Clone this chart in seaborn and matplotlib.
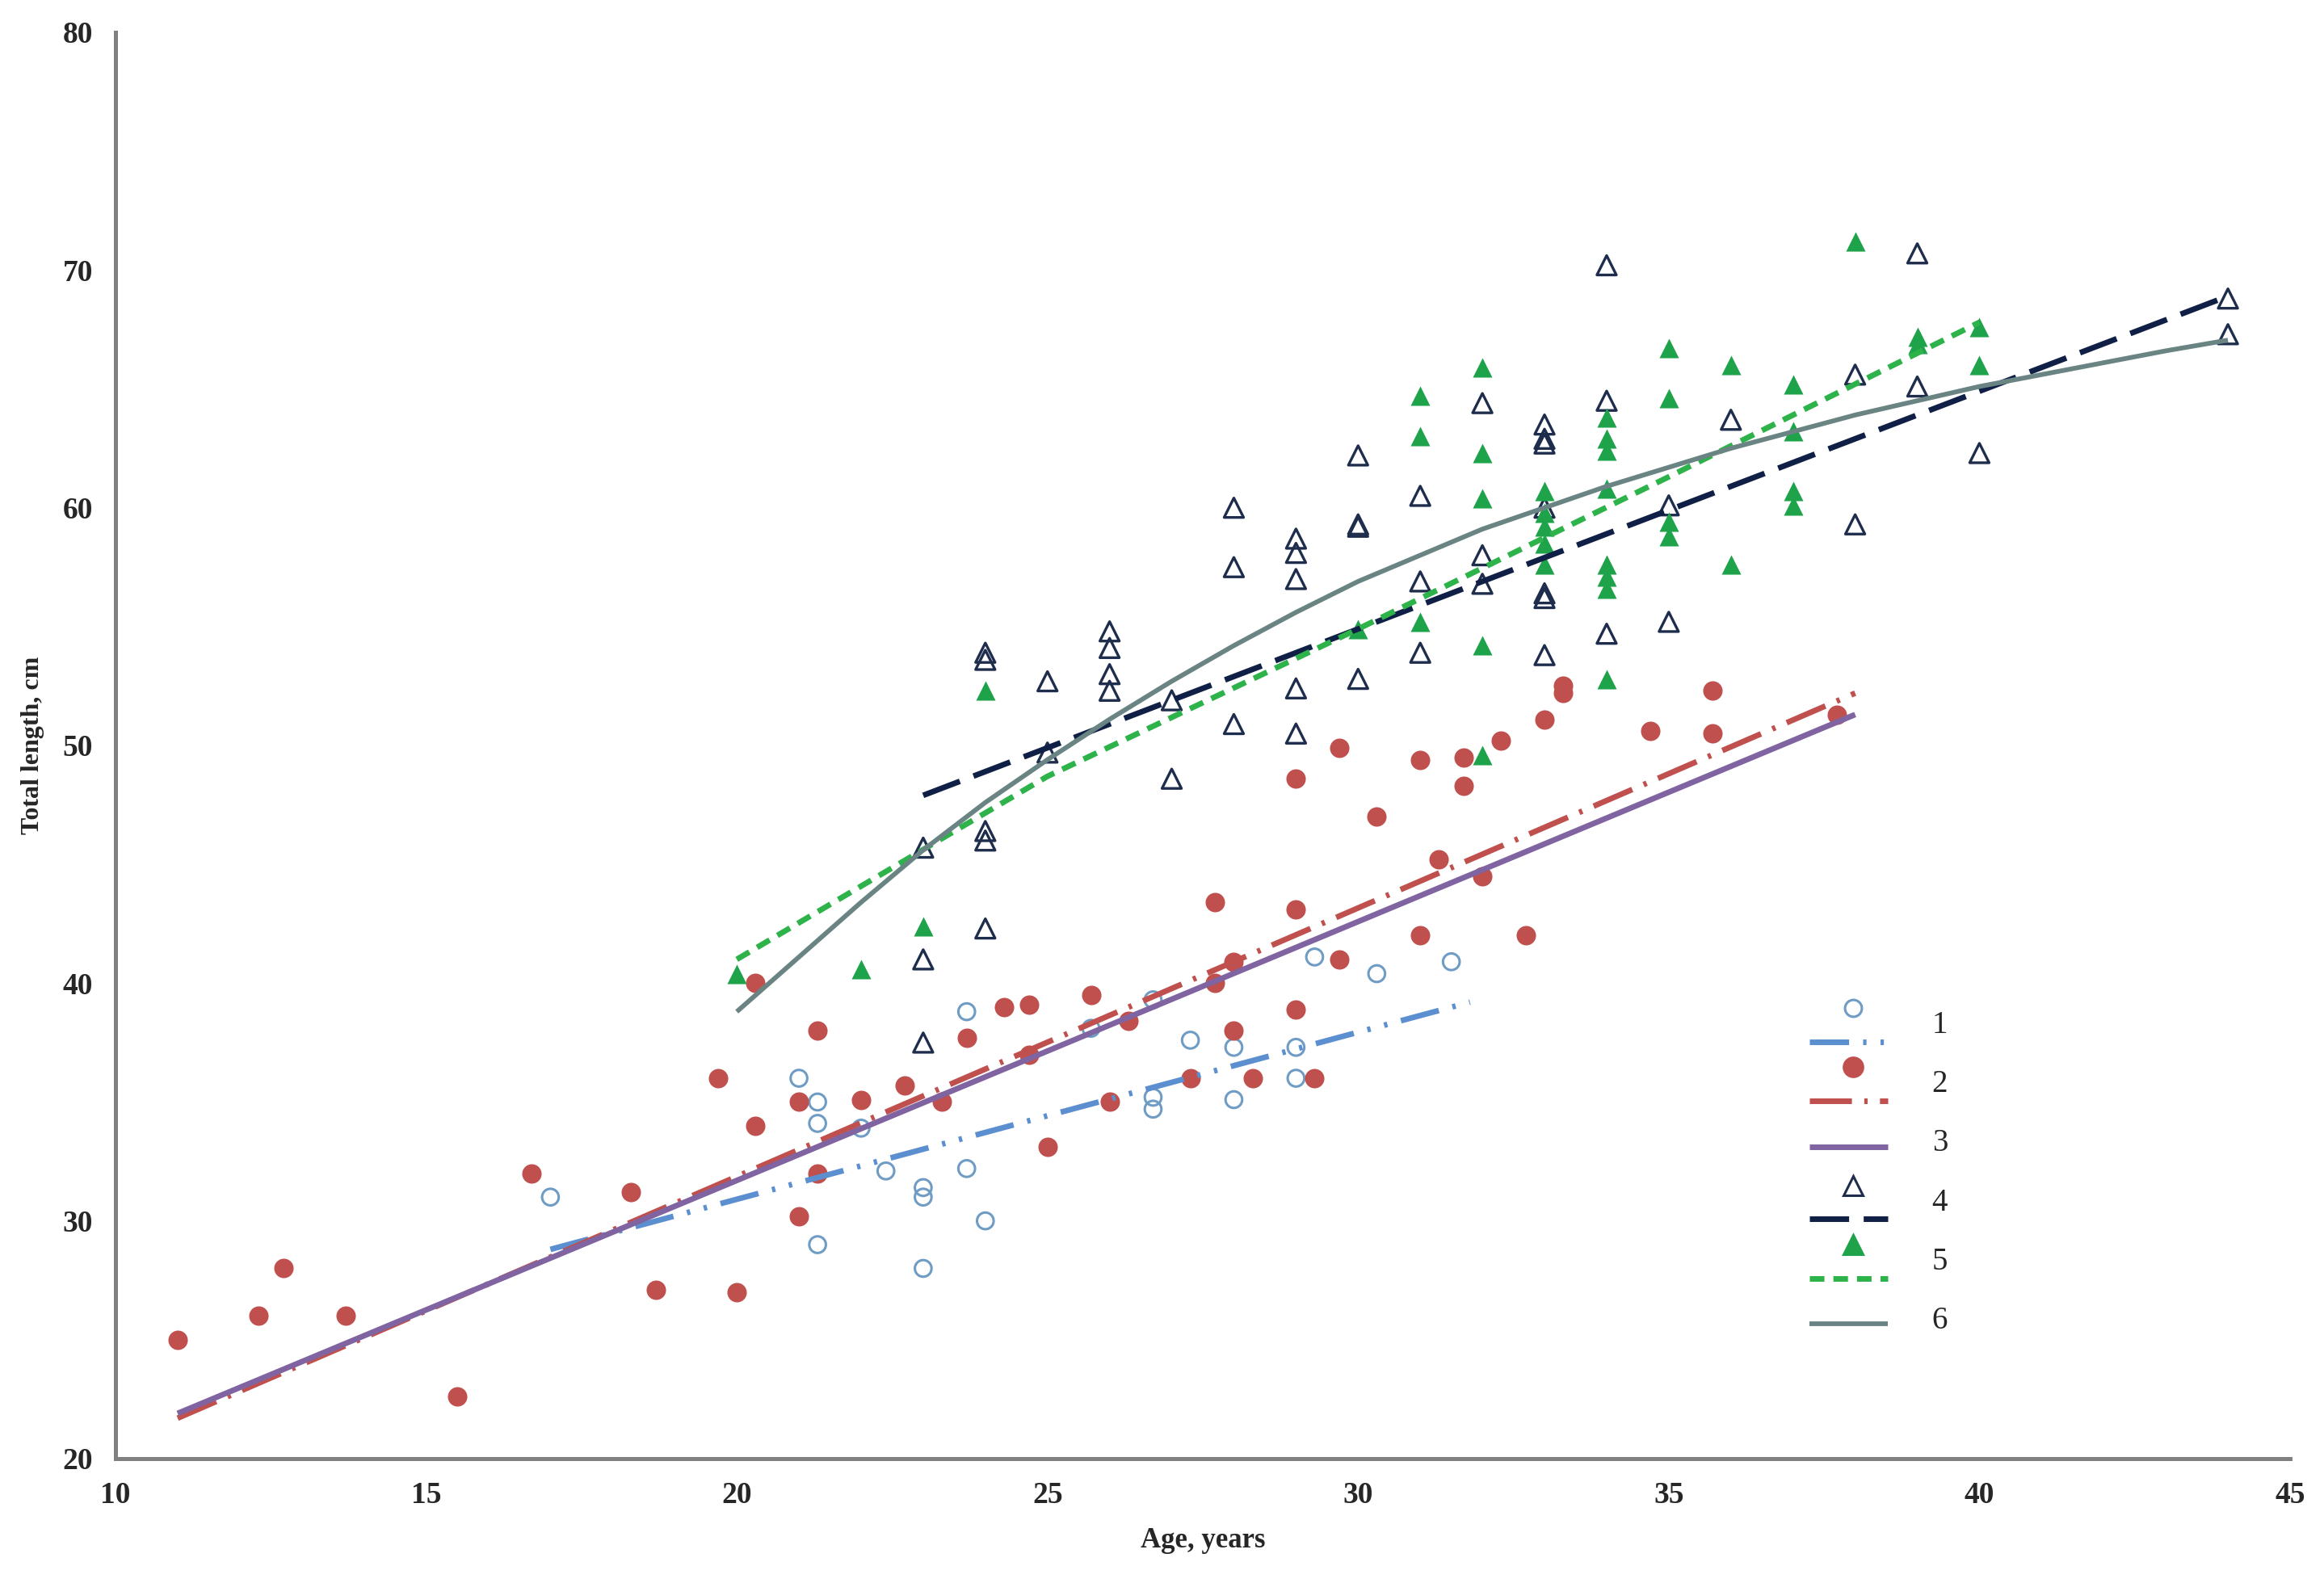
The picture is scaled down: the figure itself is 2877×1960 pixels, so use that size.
import numpy as np
import pandas as pd
import seaborn as sns
import matplotlib
import matplotlib.pyplot as plt
from matplotlib.lines import Line2D
from matplotlib.legend_handler import HandlerBase

matplotlib.use('Agg')

# ---- data ----
# 1: open circles
age1 = [17.0, 21.0, 21.3, 21.3, 21.3, 22.0, 22.4, 23.0, 23.0, 23.0,
        23.7, 23.7, 24.0, 25.7, 26.7, 26.7, 26.7, 27.3, 28.0, 28.0,
        29.0, 29.0, 29.3, 30.3, 31.5]
len1 = [31.0, 36.0, 35.0, 34.1, 29.0, 33.9, 32.1, 31.4, 31.0, 28.0,
        38.8, 32.2, 30.0, 38.1, 39.3, 35.2, 34.7, 37.6, 37.3, 35.1,
        37.3, 36.0, 41.1, 40.4, 40.9]

# 2: red dots
age2 = [11.0, 12.3, 12.7, 13.7, 15.5, 16.7, 18.3, 18.7, 19.7, 20.0,
        20.3, 20.3, 21.0, 21.0, 21.3, 21.3, 22.0, 22.7, 23.3, 23.7,
        24.3, 24.7, 24.7, 25.0, 25.7, 26.0, 26.3, 27.3, 27.7, 27.7,
        28.0, 28.0, 28.3, 29.0, 29.0, 29.0, 29.3, 29.7, 29.7, 30.3,
        31.0, 31.0, 31.3, 31.7, 31.7, 32.0, 32.3, 32.7, 33.0, 33.3,
        33.3, 34.7, 35.7, 35.7, 37.7]
len2 = [25.0, 26.0, 28.0, 26.0, 22.6, 32.0, 31.2, 27.1, 36.0, 27.0,
        40.0, 34.0, 35.0, 30.2, 38.0, 32.0, 35.1, 35.7, 35.0, 37.7,
        39.0, 39.1, 37.0, 33.1, 39.5, 35.0, 38.4, 36.0, 43.4, 40.0,
        40.9, 38.0, 36.0, 43.1, 48.6, 38.9, 36.0, 49.9, 41.0, 47.0,
        49.4, 42.0, 45.2, 49.5, 48.3, 44.5, 50.2, 42.0, 51.1, 52.5,
        52.2, 50.6, 52.3, 50.5, 51.3]

# 4: open triangles
age4 = [23, 23, 23, 24, 24, 24, 24, 24, 25, 25, 26, 26, 26, 26, 27, 27,
        28, 28, 28, 29, 29, 29, 29, 29, 30, 30, 30, 30, 31, 31, 31,
        32, 32, 32, 33, 33, 33, 33, 33, 33, 33, 34, 34, 34, 35, 35,
        36, 38, 38, 39, 39, 40, 44, 44]
len4 = [45.7, 41.0, 37.5, 53.9, 53.6, 46.4, 46.0, 42.3, 52.7, 49.7,
        54.8, 54.1, 53.0, 52.3, 51.9, 48.6, 60.0, 57.5, 50.9,
        58.7, 58.1, 57.0, 52.4, 50.5, 62.2, 59.3, 59.2, 52.8,
        60.5, 56.9, 53.9, 64.4, 58.0, 56.8,
        63.5, 62.9, 62.7, 60.0, 56.4, 56.2, 53.8, 70.2, 64.5, 54.7,
        60.1, 55.2, 63.7, 65.6, 59.3, 70.7, 65.1, 62.3, 68.8, 67.3]

# 5: filled triangles
age5 = [20, 22, 23, 24, 30, 31, 31, 31, 32, 32, 32, 32, 32,
        33, 33, 33, 33, 33, 34, 34, 34, 34, 34, 34, 34, 34,
        35, 35, 35, 35, 36, 36, 37, 37, 37, 37, 38, 39, 39, 40, 40]
len5 = [40.4, 40.6, 42.4, 52.3, 54.9, 64.7, 63.0, 55.2,
        65.9, 62.3, 60.4, 54.2, 49.6, 60.7, 59.8, 59.2, 58.5, 57.6,
        63.8, 62.9, 62.4, 60.8, 57.6, 57.1, 56.6, 52.8,
        66.7, 64.6, 59.4, 58.8, 66.0, 57.6, 65.2, 63.2, 60.7, 60.1,
        71.2, 67.2, 66.9, 67.6, 66.0]

# fitted curves
fit1_age = [17.0, 31.8]
fit1_len = [28.8, 39.2]
fit2_age = [11.0, 38.0]
fit2_len = [21.7, 52.2]
fit3_age = [11.0, 38.0]
fit3_len = [21.9, 51.3]
fit4_age = [23.0, 44.0]
fit4_len = [47.9, 68.9]
fit5_age = [20, 25, 30, 35, 40]
fit5_len = [41.0, 48.7, 54.9, 61.3, 67.8]
fit6_age = [20, 21, 22, 23, 24, 25, 26, 27, 28, 29, 30, 31, 32, 33, 34,
            35, 36, 37, 38, 39, 40, 41, 42, 43, 44]
fit6_len = [38.8, 41.1, 43.4, 45.6, 47.6, 49.4, 51.1, 52.7, 54.2, 55.6,
            56.9, 58.0, 59.1, 60.0, 60.9, 61.7, 62.5, 63.2, 63.9, 64.5,
            65.1, 65.6, 66.1, 66.6, 67.05]

labels = ['1', '2', '3', '4', '5', '6']

# colours
c1 = '#5b8fcf'
c1m = '#6f9cc4'
c2 = '#c0504d'
c3 = '#8064a2'
c4 = '#0f1f45'
c4m = '#1f2d4d'
c5 = '#1ea34a'
c5l = '#2db34a'
c6 = '#6a8484'

sns.set_style('white')
plt.rcParams['font.family'] = ['Liberation Serif', 'DejaVu Serif']

fig = plt.figure(figsize=(2877 / 200, 1960 / 200), dpi=200)
ax = fig.add_axes([0.0497, 0.0786, 0.9357, 0.901])

sns.scatterplot(x=age1, y=len1, ax=ax, marker='o', s=55, facecolors='none',
                edgecolor=c1m, linewidth=1.1, zorder=3)
sns.scatterplot(x=age2, y=len2, ax=ax, marker='o', s=75, color=c2,
                edgecolor=c2, linewidth=0, zorder=3)
sns.scatterplot(x=age4, y=len4, ax=ax, marker='^', s=75, facecolors='none',
                edgecolor=c4m, linewidth=1.2, zorder=3)
sns.scatterplot(x=age5, y=len5, ax=ax, marker='^', s=75, color=c5,
                edgecolor=c5, linewidth=0, zorder=3)

lw = 2.5
line_specs = [
    (fit1_age, fit1_len, c1, (7, 2.5, 0.6, 2.5, 0.6, 2.5), lw),
    (fit2_age, fit2_len, c2, (7.5, 2.2, 0.6, 2.2), lw),
    (fit3_age, fit3_len, c3, None, lw),
    (fit4_age, fit4_len, c4, (7, 2.6), lw),
    (fit5_age, fit5_len, c5l, (2.6, 1.6), lw),
    (fit6_age, fit6_len, c6, None, 2.1),
]
for xs, ys, col, dash, w in line_specs:
    n0 = len(ax.lines)
    sns.lineplot(x=xs, y=ys, ax=ax, color=col, linewidth=w, sort=False,
                 estimator=None, zorder=4)
    ln = ax.lines[n0]
    ln.set_solid_capstyle('butt')
    if dash is not None:
        ln.set_dashes(dash)
        ln.set_dash_capstyle('butt')


# legend: marker drawn above the line, like the spreadsheet original
class LegendKey:
    def __init__(self, color, dashes=None, marker=None, mfc=None, mec=None,
                 ms=8, w=lw):
        self.color = color
        self.dashes = dashes
        self.marker = marker
        self.mfc = mfc
        self.mec = mec
        self.ms = ms
        self.w = w


class KeyHandler(HandlerBase):
    def create_artists(self, legend, h, xdescent, ydescent, width, height,
                       fontsize, trans):
        x0, x1 = -xdescent, width - xdescent
        ly = (0.0 if h.marker else 0.35) * height - ydescent
        ln = Line2D([x0, x1], [ly, ly], color=h.color, lw=h.w,
                    solid_capstyle='butt')
        if h.dashes:
            ln.set_dashes(h.dashes)
        ln.set_transform(trans)
        out = [ln]
        if h.marker:
            mk = Line2D([(x0 + x1) / 2 + 2], [0.88 * height - ydescent],
                        marker=h.marker, ms=h.ms, mfc=h.mfc, mec=h.mec,
                        mew=1.1, ls='none')
            mk.set_transform(trans)
            out.append(mk)
        return out


keys = [
    LegendKey(c1, line_specs[0][3], 'o', 'none', c1m, 7.5),
    LegendKey(c2, line_specs[1][3], 'o', c2, c2, 8.5),
    LegendKey(c3, None),
    LegendKey(c4, line_specs[3][3], '^', 'none', c4m, 8.5),
    LegendKey(c5l, line_specs[4][3], '^', c5, c5, 8.5),
    LegendKey(c6, None, w=2.1),
]
fig.legend(keys, labels, handler_map={LegendKey: KeyHandler()},
           loc='upper left', bbox_to_anchor=(0.7786, 0.366),
           frameon=False, borderpad=0, borderaxespad=0,
           fontsize=14, handlelength=2.5, handleheight=1.5,
           handletextpad=1.4, labelspacing=0.66)

ax.set_xlim(10, 45)
ax.set_ylim(20, 80)
ax.set_xticks(range(10, 46, 5))
ax.set_yticks(range(20, 81, 10))
for side in ['top', 'right']:
    ax.spines[side].set_visible(False)
for side in ['left', 'bottom']:
    ax.spines[side].set_color('#808080')
    ax.spines[side].set_linewidth(1.8)
ax.tick_params(axis='both', direction='out', length=4, width=0.8,
               color='#404040', labelsize=13.5, pad=6)
for t in ax.get_xticklabels() + ax.get_yticklabels():
    t.set_fontweight('bold')
ax.set_xlabel('Age, years', fontsize=12.5, fontweight='bold', labelpad=8)
ax.set_ylabel('Total length, cm', fontsize=11.5, fontweight='bold', labelpad=8)

plt.savefig('out.png', dpi=200)
plt.close()
